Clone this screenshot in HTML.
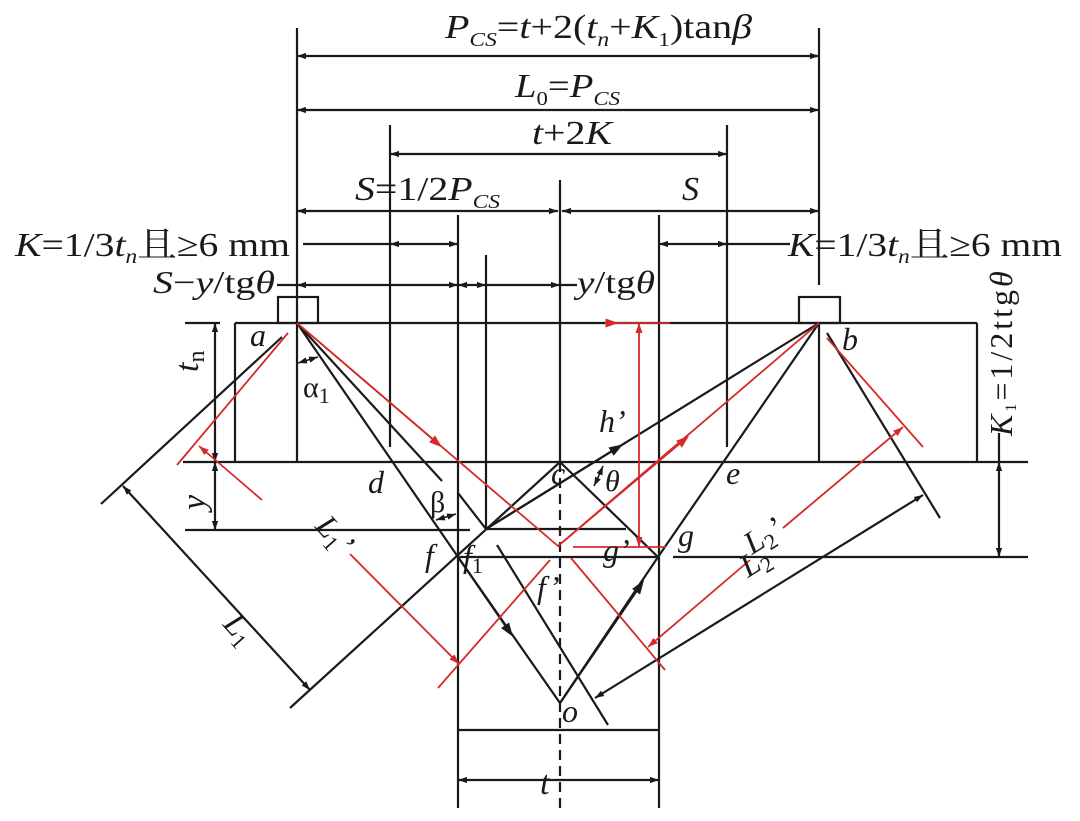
<!DOCTYPE html>
<html><head><meta charset="utf-8"><style>
html,body{margin:0;padding:0;background:#fff;}
svg{display:block;}
text{font-family:"Liberation Serif","Noto Serif CJK SC",serif;fill:#1a1a1a;}
.i{font-style:italic;}
</style></head><body>
<svg width="1080" height="821" viewBox="0 0 1080 821" xmlns="http://www.w3.org/2000/svg">
<defs>
<marker id="ab" viewBox="0 0 10 10" refX="10" refY="5" markerWidth="9" markerHeight="9" markerUnits="userSpaceOnUse" orient="auto-start-reverse"><path d="M0,1.5 L10,5 L0,8.5z" fill="#1a1a1a"/></marker>
<marker id="ar" viewBox="0 0 10 10" refX="10" refY="5" markerWidth="10" markerHeight="10" markerUnits="userSpaceOnUse" orient="auto-start-reverse"><path d="M0,1.5 L10,5 L0,8.5z" fill="#d42a2a"/></marker>
<marker id="mb" viewBox="0 0 10 10" refX="5" refY="5" markerWidth="14" markerHeight="14" markerUnits="userSpaceOnUse" orient="auto"><path d="M0,1.5 L10,5 L0,8.5z" fill="#1a1a1a"/></marker>
<marker id="mr" viewBox="0 0 10 10" refX="5" refY="5" markerWidth="13" markerHeight="13" markerUnits="userSpaceOnUse" orient="auto"><path d="M0,1.5 L10,5 L0,8.5z" fill="#d42a2a"/></marker>
</defs>
<g stroke="#1a1a1a" stroke-width="2.2" fill="none">
<line x1="297" y1="28" x2="297" y2="462"/>
<line x1="819" y1="28" x2="819" y2="285"/>
<line x1="819" y1="323" x2="819" y2="462"/>
<line x1="390" y1="125" x2="390" y2="447"/>
<line x1="727" y1="125" x2="727" y2="447"/>
<line x1="560" y1="180" x2="560" y2="462"/>
<line x1="560" y1="462" x2="560" y2="812" stroke-dasharray="10,6"/>
<line x1="458" y1="215" x2="458" y2="808"/>
<line x1="659" y1="215" x2="659" y2="808"/>
<line x1="486" y1="255" x2="486" y2="529"/>
<line x1="235" y1="323" x2="235" y2="462"/>
<line x1="977" y1="323" x2="977" y2="462"/>
<line x1="185" y1="323" x2="220" y2="323"/>
<line x1="235" y1="323" x2="977" y2="323"/>
<line x1="183" y1="462" x2="1028" y2="462"/>
<line x1="185" y1="530" x2="470" y2="530"/>
<line x1="486" y1="529" x2="626" y2="529"/>
<line x1="458" y1="557" x2="659" y2="557"/>
<line x1="673" y1="557" x2="1028" y2="557"/>
<line x1="458" y1="730" x2="659" y2="730"/>
<rect x="278" y="297" width="40" height="26"/>
<rect x="799" y="297" width="41" height="26"/>
<line x1="297" y1="56" x2="819" y2="56" marker-start="url(#ab)" marker-end="url(#ab)"/>
<line x1="297" y1="110" x2="819" y2="110" marker-start="url(#ab)" marker-end="url(#ab)"/>
<line x1="390" y1="154" x2="727" y2="154" marker-start="url(#ab)" marker-end="url(#ab)"/>
<line x1="297" y1="211" x2="558" y2="211" marker-start="url(#ab)" marker-end="url(#ab)"/>
<line x1="562" y1="211" x2="819" y2="211" marker-start="url(#ab)" marker-end="url(#ab)"/>
<line x1="303" y1="244" x2="390" y2="244"/>
<line x1="390" y1="244" x2="458" y2="244" marker-start="url(#ab)" marker-end="url(#ab)"/>
<line x1="659" y1="244" x2="727" y2="244" marker-start="url(#ab)" marker-end="url(#ab)"/>
<line x1="727" y1="244" x2="790" y2="244"/>
<line x1="277" y1="285" x2="297" y2="285"/>
<line x1="297" y1="285" x2="458" y2="285" marker-start="url(#ab)" marker-end="url(#ab)"/>
<line x1="458" y1="285" x2="486" y2="285" marker-start="url(#ab)" marker-end="url(#ab)"/>
<line x1="486" y1="285" x2="560" y2="285" marker-end="url(#ab)"/>
<line x1="560" y1="285" x2="577" y2="285"/>
<line x1="215" y1="323" x2="215" y2="462" marker-start="url(#ab)" marker-end="url(#ab)"/>
<line x1="215" y1="462" x2="215" y2="530" marker-start="url(#ab)" marker-end="url(#ab)"/>
<line x1="999" y1="462" x2="999" y2="557" marker-start="url(#ab)" marker-end="url(#ab)"/>
<line x1="999" y1="433" x2="999" y2="462"/>
<line x1="458" y1="780" x2="659" y2="780" marker-start="url(#ab)" marker-end="url(#ab)"/>
<line x1="123" y1="486" x2="310" y2="690" marker-start="url(#ab)" marker-end="url(#ab)"/>
<line x1="595" y1="698" x2="923" y2="495" marker-start="url(#ab)" marker-end="url(#ab)"/>
<line x1="282" y1="337" x2="101" y2="504"/>
<line x1="290" y1="708" x2="560" y2="462"/>
<polyline points="297,323 458,557 560,703"/>
<line x1="458" y1="557" x2="509" y2="631" marker-end="url(#mb)"/>
<line x1="297" y1="323" x2="442" y2="481"/>
<line x1="458" y1="493" x2="486" y2="529"/>
<line x1="497" y1="545" x2="608" y2="725"/>
<line x1="486" y1="529" x2="819" y2="323"/>
<line x1="486" y1="529" x2="617" y2="448" marker-end="url(#mb)"/>
<line x1="560" y1="462" x2="658" y2="557"/>
<polyline points="819,323 658,557 560,703"/>
<line x1="560" y1="703" x2="640" y2="586" marker-end="url(#mb)"/>
<line x1="827" y1="333" x2="940" y2="518"/>
<line x1="298" y1="363" x2="318" y2="357" stroke-width="1.6" marker-start="url(#ab)" marker-end="url(#ab)"/>
<line x1="436" y1="520" x2="456" y2="514" stroke-width="1.6" marker-start="url(#ab)" marker-end="url(#ab)"/>
<path d="M603,466 Q598,478 594,486" stroke-width="1.6" marker-start="url(#ab)" marker-end="url(#ab)"/>
</g>
<g stroke="#d42a2a" stroke-width="1.8" fill="none">
<line x1="288" y1="333" x2="177" y2="465"/>
<line x1="199" y1="446" x2="262" y2="500" marker-start="url(#ar)"/>
<line x1="350" y1="554" x2="459" y2="664" marker-end="url(#ar)"/>
<polyline points="297,323 558,546 819,323"/>
<line x1="297" y1="323" x2="437" y2="443" marker-end="url(#mr)"/>
<line x1="558" y1="546" x2="684" y2="440" marker-end="url(#mr)"/>
<line x1="438" y1="688" x2="550" y2="560"/>
<line x1="571" y1="558" x2="665" y2="670"/>
<line x1="648" y1="647" x2="750" y2="560" marker-start="url(#ar)"/>
<line x1="783" y1="528" x2="903" y2="427" marker-end="url(#ar)"/>
<line x1="827" y1="338" x2="923" y2="447"/>
<line x1="605" y1="323" x2="670" y2="323"/>
<line x1="605" y1="323" x2="612" y2="323" marker-end="url(#mr)"/>
<line x1="639" y1="547" x2="639" y2="323" marker-start="url(#ar)" marker-end="url(#ar)"/>
<line x1="573" y1="547" x2="666" y2="547"/>
</g>
<text x="445" y="38" font-size="34" textLength="307" lengthAdjust="spacingAndGlyphs"><tspan class="i">P</tspan><tspan class="i" font-size="20" dy="8">CS</tspan><tspan dy="-8">=</tspan><tspan class="i">t</tspan>+2(<tspan class="i">t</tspan><tspan class="i" font-size="20" dy="8">n</tspan><tspan dy="-8">+</tspan><tspan class="i">K</tspan><tspan font-size="20" dy="8">1</tspan><tspan dy="-8">)tan</tspan><tspan class="i">β</tspan></text>
<text x="515" y="97" font-size="34" textLength="105" lengthAdjust="spacingAndGlyphs"><tspan class="i">L</tspan><tspan font-size="20" dy="8">0</tspan><tspan dy="-8">=</tspan><tspan class="i">P</tspan><tspan class="i" font-size="20" dy="8">CS</tspan></text>
<text x="532" y="144" font-size="34" textLength="80" lengthAdjust="spacingAndGlyphs"><tspan class="i">t</tspan>+2<tspan class="i">K</tspan></text>
<text x="355" y="200" font-size="34" textLength="145" lengthAdjust="spacingAndGlyphs"><tspan class="i">S</tspan>=1/2<tspan class="i">P</tspan><tspan class="i" font-size="20" dy="8">CS</tspan></text>
<text x="682" y="200" font-size="34" class="i">S</text>
<text x="15" y="256" font-size="34" textLength="275" lengthAdjust="spacingAndGlyphs"><tspan class="i">K</tspan>=1/3<tspan class="i">t</tspan><tspan class="i" font-size="20" dy="7">n</tspan><tspan dy="-7">且≥6 mm</tspan></text>
<text x="788" y="256" font-size="34" textLength="274" lengthAdjust="spacingAndGlyphs"><tspan class="i">K</tspan>=1/3<tspan class="i">t</tspan><tspan class="i" font-size="20" dy="7">n</tspan><tspan dy="-7">且≥6 mm</tspan></text>
<text x="153" y="293" font-size="32" textLength="122" lengthAdjust="spacingAndGlyphs"><tspan class="i">S</tspan>−<tspan class="i">y</tspan>/tg<tspan class="i">θ</tspan></text>
<text x="577" y="293" font-size="32" textLength="78" lengthAdjust="spacingAndGlyphs"><tspan class="i">y</tspan>/tg<tspan class="i">θ</tspan></text>
<text transform="translate(1012,436) rotate(-90)" font-size="32" letter-spacing="3"><tspan class="i">K</tspan><tspan font-size="16" dy="4">1</tspan><tspan dy="-4">=1/2ttg</tspan><tspan class="i">θ</tspan></text>
<text transform="translate(198,372) rotate(-90)" font-size="34" class="i">t<tspan font-size="24" dy="6" font-style="normal">n</tspan></text>
<text transform="translate(205,510) rotate(-90)" font-size="34" class="i">y</text>
<text x="250" y="346" font-size="32" class="i">a</text>
<text x="842" y="350" font-size="32" class="i">b</text>
<text x="303" y="397" font-size="30">α<tspan font-size="22" dy="6">1</tspan></text>
<text x="368" y="493" font-size="32" class="i">d</text>
<text x="551" y="484" font-size="32" class="i">c</text>
<text x="726" y="484" font-size="32" class="i">e</text>
<text x="599" y="432" font-size="32" class="i">h’</text>
<text x="605" y="491" font-size="30" class="i">θ</text>
<text x="430" y="512" font-size="30">β</text>
<text x="425" y="566" font-size="32" class="i">f</text>
<text x="463" y="567" font-size="32" class="i">f<tspan font-size="22" dy="6" font-style="normal">1</tspan></text>
<text x="603" y="561" font-size="32" class="i">g’</text>
<text x="678" y="546" font-size="32" class="i">g</text>
<text x="537" y="598" font-size="32" class="i">f’</text>
<text x="562" y="722" font-size="32" class="i">o</text>
<text x="540" y="794" font-size="34" class="i">t</text>
<text transform="translate(222,625) rotate(48)" font-size="32" class="i">L<tspan font-size="22" dy="6" font-style="normal">1</tspan></text>
<text transform="translate(314,527) rotate(48)" font-size="32" class="i">L<tspan font-size="22" dy="6" font-style="normal">1</tspan><tspan dy="-6">’</tspan></text>
<text transform="translate(748,578) rotate(-32)" font-size="32" class="i">L<tspan font-size="22" dy="6" font-style="normal">2</tspan></text>
<text transform="translate(752,555) rotate(-32)" font-size="32" class="i">L<tspan font-size="22" dy="6" font-style="normal">2</tspan><tspan dy="-6">’</tspan></text>
</svg>
</body></html>
